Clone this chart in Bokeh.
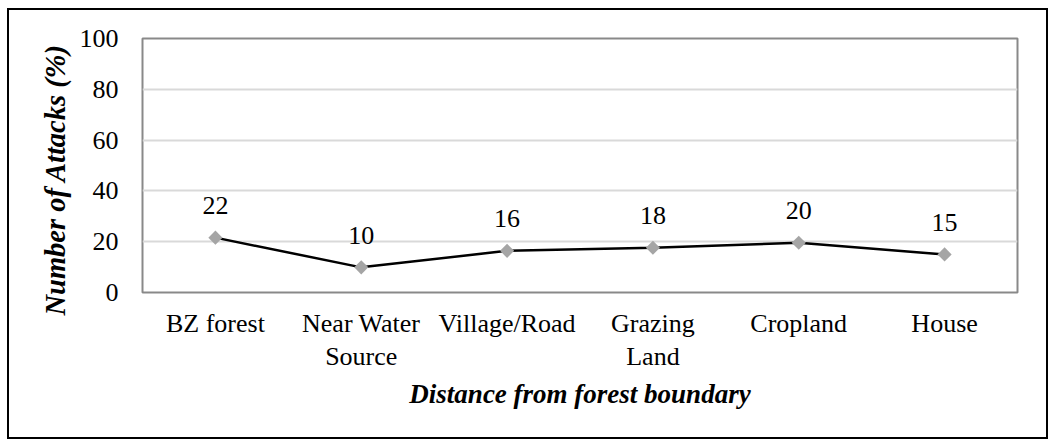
import math
from bokeh.plotting import figure
from bokeh.models import Range1d, ColumnDataSource, Title
from bokeh.embed import file_html
from bokeh.resources import INLINE
from bokeh.core.properties import value

categories = ["BZ forest", "Near Water\nSource", "Village/Road", "Grazing\nLand", "Cropland", "House"]
attacks = [21.6, 9.9, 16.4, 17.6, 19.6, 15.0]
point_labels = ["22", "10", "16", "18", "20", "15"]
y_ticks = [0, 20, 40, 60, 80, 100]
x_title = "Distance from forest boundary"
y_title = "Number of Attacks (%)"

FONT = "Liberation Serif"

src = ColumnDataSource(dict(x=categories, y=attacks, t=point_labels))

p = figure(x_range=categories, y_range=Range1d(0, 100),
           width=1037, height=427,
           output_backend="svg", toolbar_location=None,
           min_border_left=133, min_border_right=29,
           min_border_top=28, min_border_bottom=145,
           background_fill_color="white", border_fill_color="white")

p.margin = (10, 0, 0, 9)
p.styles = {"outline": "2px solid black"}

p.outline_line_color = "#898989"
p.outline_line_width = 2

p.xgrid.grid_line_color = None
p.ygrid.grid_line_color = "#d9d9d9"
p.ygrid.grid_line_width = 2
p.yaxis.ticker = y_ticks

for ax in (p.xaxis, p.yaxis):
    ax.axis_line_color = None
    ax.major_tick_line_color = None
    ax.minor_tick_line_color = None
    ax.major_tick_in = 0
    ax.major_tick_out = 0
    ax.major_label_text_font = FONT
    ax.major_label_text_font_size = "26px"
    ax.major_label_text_color = "black"
    ax.axis_label_text_font = FONT
    ax.axis_label_text_font_size = "27px"
    ax.axis_label_text_font_style = "bold italic"
    ax.axis_label_text_color = "black"

p.xaxis.major_label_standoff = 16
p.xaxis.major_label_text_line_height = 1.15
p.yaxis.major_label_standoff = 24
p.xaxis.axis_label = x_title
p.xaxis.axis_label_standoff = 5

ytitle = Title(text=y_title, align="left", offset=-23, standoff=12,
               text_font=FONT, text_font_size="28.5px",
               text_font_style="bold italic", text_color="black")
p.add_layout(ytitle, "left")

p.line("x", "y", source=src, line_color="black", line_width=2.5)
p.scatter("x", "y", source=src, marker="square", size=10, angle=math.pi / 4,
          fill_color="#a5a5a5", line_color=None)
p.text("x", "y", text="t", source=src, text_align="center",
       text_baseline="alphabetic", y_offset=-32,
       text_font=value(FONT), text_font_size="26px", text_color="black")

open("out.html", "w").write(file_html(p, INLINE))
